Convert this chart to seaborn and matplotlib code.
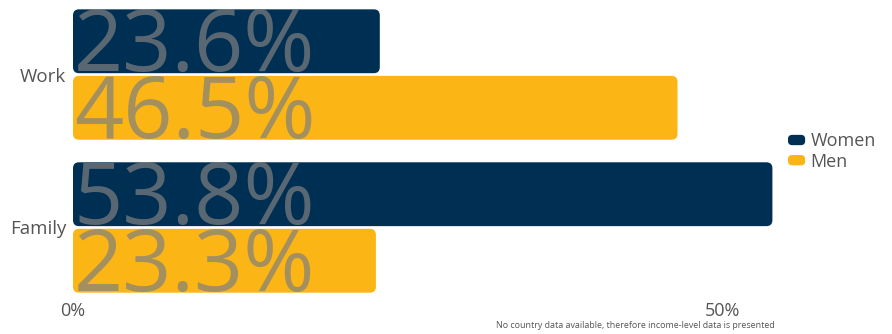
import matplotlib
matplotlib.use("Agg")
import matplotlib.pyplot as plt
import seaborn as sns
import pandas as pd
from matplotlib.patches import FancyBboxPatch, Patch
from matplotlib.legend_handler import HandlerPatch

categories = ["Work", "Family"]
women = [23.6, 53.8]
men = [46.5, 23.3]
series = ["Women", "Men"]
xtick_vals = [0, 50]
xtick_labels = ["0%", "50%"]
footnote = "No country data available, therefore income-level data is presented"

NAVY = "#002F54"
YELLOW = "#FBB515"
TXT = "#555555"

sns.set_theme(style="white")
plt.rcParams["font.family"] = ["Open Sans", "DejaVu Sans"]

df = pd.DataFrame({
    "category": categories * 2,
    "value": women + men,
    "series": [series[0]] * len(categories) + [series[1]] * len(categories),
})

fig = plt.figure(figsize=(8.92, 3.34), dpi=100)
ax = fig.add_axes([73 / 892, 1 - 294 / 334, (781.5 - 73) / 892, (294 - 8) / 334])

sns.barplot(data=df, y="category", x="value", hue="series", order=categories,
            hue_order=series, palette=[NAVY, YELLOW], orient="h",
            width=0.87, gap=0.04, legend=False, ax=ax, saturation=1)

ax.set_xlim(0, 54.5)
ax.set_ylim(1.435, -0.435)

# replace rectangles with rounded ones
px_x = (781.5 - 73) / 54.5
px_y = (294 - 8) / 1.87
r_px = 6
patches = list(ax.patches)
for p in patches:
    x, y = p.get_x(), p.get_y()
    w, h = p.get_width(), p.get_height()
    fc = p.get_facecolor()
    p.set_visible(False)
    rb = FancyBboxPatch((x, y), w, h,
                        boxstyle=f"round,pad=0,rounding_size={r_px / px_x}",
                        mutation_aspect=px_x / px_y,
                        fc=fc, ec="none", zorder=2)
    ax.add_patch(rb)
    # big value label
    yc = y + h / 2
    ax.text(0.05, yc + 30 / px_y, f"{w:.1f}%", ha="left", va="baseline",
            fontsize=62, color="#808080", alpha=0.7, zorder=3)

ax.set_xticks(xtick_vals)
ax.set_xticklabels(xtick_labels)
ax.tick_params(axis="x", labelsize=13, labelcolor=TXT, length=0, pad=6)
ax.tick_params(axis="y", labelsize=13.5, labelcolor=TXT, length=0, pad=5)
ax.set_xlabel("")
ax.set_ylabel("")
for s in ax.spines.values():
    s.set_visible(False)
ax.grid(False)


class RoundHandler(HandlerPatch):
    def create_artists(self, legend, orig_handle, xdescent, ydescent,
                       width, height, fontsize, trans):
        p = FancyBboxPatch((-xdescent, -ydescent), width, height,
                           boxstyle="round,pad=0,rounding_size=3",
                           fc=orig_handle.get_facecolor(), ec="none",
                           transform=trans)
        return [p]


handles = [Patch(facecolor=NAVY, label=series[0]), Patch(facecolor=YELLOW, label=series[1])]
leg = fig.legend(handles=handles, loc="center left",
                 bbox_to_anchor=(788 / 892, 1 - 151.5 / 334), frameon=False,
                 borderaxespad=0, borderpad=0,
                 fontsize=13, handlelength=0.95, handleheight=0.5,
                 handletextpad=0.3, labelspacing=0.12,
                 handler_map={Patch: RoundHandler()})
for t in leg.get_texts():
    t.set_color(TXT)

fig.text(775 / 892, 1 - 326 / 334, footnote, ha="right", va="center",
         fontsize=6.4, color=TXT)

fig.savefig("out.png", dpi=100)
